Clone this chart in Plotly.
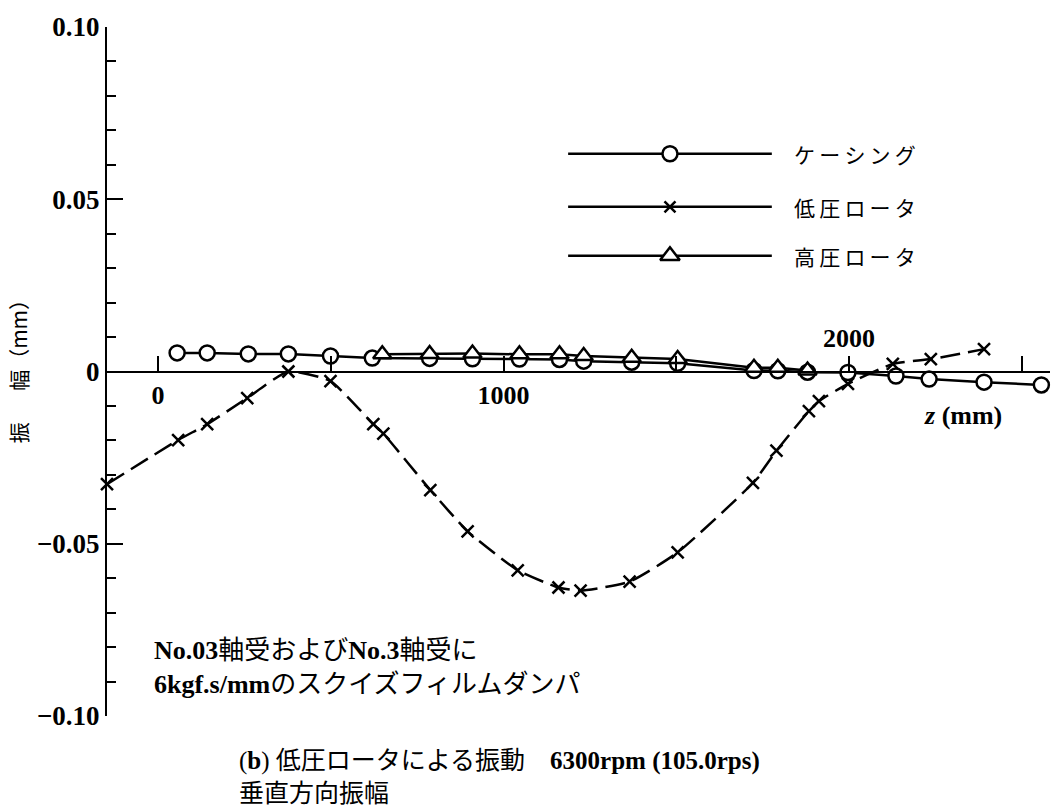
import plotly.graph_objects as go

# --- data: axial position z (mm) and vertical amplitude (mm) ---
casing_z = [55, 142, 261, 377, 499, 620, 786, 910, 1046, 1162, 1232, 1371, 1504,
            1725, 1794, 1880, 1997, 2136, 2232, 2391, 2557]
casing_v = [0.0054, 0.0054, 0.0051, 0.0051, 0.0045, 0.0039, 0.0038, 0.0037, 0.0036,
            0.0035, 0.0030, 0.0027, 0.0024, 0.0003, 0.0002, -0.0002, -0.0003,
            -0.0013, -0.0022, -0.0031, -0.0039]

lp_z = [-148, 58, 142, 258, 377, 499, 623, 652, 788, 896, 1041, 1159, 1223, 1365,
        1504, 1722, 1790, 1884, 1913, 1997, 2127, 2237, 2391]
lp_v = [-0.0327, -0.0199, -0.0153, -0.0077, 0.0000, -0.0028, -0.0153, -0.0180,
        -0.0344, -0.0464, -0.0577, -0.0627, -0.0636, -0.0610, -0.0525, -0.0323,
        -0.0230, -0.0115, -0.0086, -0.0036, 0.0022, 0.0036, 0.0065]

hp_z = [649, 786, 910, 1046, 1162, 1232, 1371, 1504, 1725, 1794, 1880]
hp_v = [0.0050, 0.0051, 0.0052, 0.0050, 0.0050, 0.0045, 0.0040, 0.0036, 0.0011,
        0.0011, 0.0003]

y_tickvals = [-0.10, -0.05, 0, 0.05, 0.10]
y_ticktext = ["\u22120.10", "\u22120.05", "0", "0.05", "0.10"]
x_tickvals = [0, 500, 1000, 1500, 2000, 2500]
x_ticktext = ["0", "", "1000", "", "", ""]

series_names = ["ケーシング", "低圧ロータ", "高圧ロータ"]

SERIF = "Liberation Serif, Noto Sans CJK JP"
CJK = "Noto Sans CJK JP, Noto Sans CJK SC"

fig = go.Figure()

# low-pressure rotor: dashed line with x markers
fig.add_trace(go.Scatter(
    x=lp_z, y=lp_v, mode="lines+markers", cliponaxis=False,
    line=dict(color="black", width=2.5, dash="20px,8px", shape="spline", smoothing=0.5),
    marker=dict(symbol="x-thin-open", size=12, color="black",
                line=dict(color="black", width=2.5)),
    showlegend=False))

# casing: solid line with open circles
fig.add_trace(go.Scatter(
    x=casing_z, y=casing_v, mode="lines+markers", cliponaxis=False,
    line=dict(color="black", width=2.5),
    marker=dict(symbol="circle", size=15, color="white",
                line=dict(color="black", width=2.5)),
    showlegend=False))

# high-pressure rotor: solid line with open triangles
fig.add_trace(go.Scatter(
    x=hp_z, y=hp_v, mode="lines+markers", cliponaxis=False,
    line=dict(color="black", width=2.5),
    marker=dict(symbol="triangle-up", size=16, color="white",
                line=dict(color="black", width=2.5)),
    showlegend=False))

# hand-drawn legend on an overlay axis spanning the plot area
leg_x0, leg_x1, leg_xm = 0.489, 0.705, 0.597
leg_rows = [0.816, 0.739, 0.668]
leg_markers = [
    dict(symbol="circle", size=15, color="white", line=dict(color="black", width=2.5)),
    dict(symbol="x-thin-open", size=11, color="black", line=dict(color="black", width=2.5)),
    dict(symbol="triangle-up", size=17, color="white", line=dict(color="black", width=2.5)),
]
for row_y, mk, name in zip(leg_rows, leg_markers, series_names):
    fig.add_trace(go.Scatter(
        x=[leg_x0, leg_x1], y=[row_y, row_y], mode="lines", xaxis="x2", yaxis="y2",
        line=dict(color="black", width=2.5), showlegend=False, hoverinfo="skip"))
    fig.add_trace(go.Scatter(
        x=[leg_xm], y=[row_y], mode="markers", xaxis="x2", yaxis="y2",
        marker=mk, showlegend=False, hoverinfo="skip"))
    fig.add_annotation(
        x=0.726, y=row_y, xref="paper", yref="paper", xanchor="left", yanchor="middle",
        text="\u2009".join(name), showarrow=False,
        font=dict(family=CJK, size=21, color="black"))

# axis labels and notes
fig.add_annotation(x=2000, y=0.0048, xref="x", yref="y", text="2000", showarrow=False,
                   xanchor="center", yanchor="bottom",
                   font=dict(family=SERIF, size=26, color="black", weight="bold"))
fig.add_annotation(x=2330, y=-0.0129, xref="x", yref="y", text="<i>z</i> (mm)",
                   showarrow=False, xanchor="center", yanchor="middle",
                   font=dict(family=SERIF, size=26, color="black", weight="bold"))
fig.add_annotation(x=-0.094, y=0.508, xref="paper", yref="paper",
                   text="振\u3000\u2002幅（mm）",
                   textangle=-90, showarrow=False, xanchor="center", yanchor="middle",
                   font=dict(family=CJK, size=21, color="black"))
fig.add_annotation(
    x=0.048, y=0.0711, xref="paper", yref="paper", xanchor="left", yanchor="middle",
    align="left", showarrow=False,
    text="<b>No.03</b>軸受および<b>No.3</b>軸受に<br><b>6kgf.s/mm</b>のスクイズフィルムダンパ",
    font=dict(family=SERIF, size=26, color="black"))
fig.add_annotation(
    x=0.138, y=-0.0885, xref="paper", yref="paper", xanchor="left", yanchor="middle",
    align="left", showarrow=False,
    text="(<b>b</b>) 低圧ロータによる振動　<b>6300rpm (105.0rps)</b><br>垂直方向振幅",
    font=dict(family=SERIF, size=25, color="black"))

fig.update_layout(
    width=1053, height=809,
    margin=dict(l=107, r=3, t=27, b=93),
    paper_bgcolor="white", plot_bgcolor="white",
    showlegend=False,
    xaxis=dict(range=[-148, 2582], anchor="free", position=0.5,
               showline=True, linecolor="black", linewidth=2,
               ticks="inside", ticklen=15, tickwidth=1.5, tickcolor="black",
               tickmode="array", tickvals=x_tickvals, ticktext=x_ticktext,
               tickfont=dict(family=SERIF, size=26, color="black", weight="bold"),
               showgrid=False, zeroline=False),
    yaxis=dict(range=[-0.10, 0.10], showline=True, linecolor="black", linewidth=2,
               ticks="inside", ticklen=16, tickwidth=1.5, tickcolor="black",
               tickmode="array", tickvals=y_tickvals, ticktext=y_ticktext,
               tickfont=dict(family=SERIF, size=27, color="black", weight="bold"),
               minor=dict(tickmode="linear", tick0=0, dtick=0.01, ticks="inside",
                          ticklen=9, tickwidth=1.5, tickcolor="black"),
               showgrid=False, zeroline=False),
    xaxis2=dict(range=[0, 1], overlaying="x", visible=False, domain=[0, 1]),
    yaxis2=dict(range=[0, 1], overlaying="y", visible=False, domain=[0, 1]),
)

fig.write_html("out.html")
